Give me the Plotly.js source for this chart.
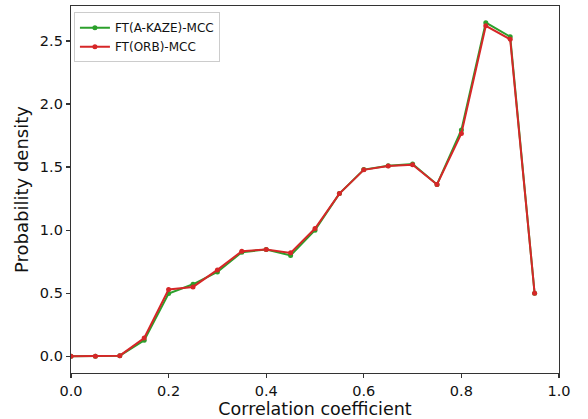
<!DOCTYPE html>
<html>
<head>
<meta charset="utf-8">
<script src="https://cdn.plot.ly/plotly-3.0.1.min.js"></script>
<style>html,body{margin:0;padding:0;background:#fff;}#chart{width:588px;height:419px;}</style>
</head>
<body>
<div id="chart"></div>
<script>
const xValues = [0, 0.05, 0.1, 0.15, 0.2, 0.25, 0.3, 0.35, 0.4, 0.45, 0.5, 0.55, 0.6, 0.65, 0.7, 0.75, 0.8, 0.85, 0.9, 0.95];
const akazeValues = [0, 0, 0.005, 0.127, 0.497, 0.571, 0.669, 0.825, 0.847, 0.80, 1.0, 1.29, 1.48, 1.51, 1.524, 1.362, 1.794, 2.645, 2.534, 0.50];
const orbValues = [0, 0, 0.005, 0.145, 0.53, 0.55, 0.685, 0.833, 0.847, 0.82, 1.013, 1.29, 1.478, 1.508, 1.518, 1.362, 1.767, 2.62, 2.513, 0.50];
const seriesNames = ["FT(A-KAZE)-MCC", "FT(ORB)-MCC"];
const xTicks = [0, 0.2, 0.4, 0.6, 0.8, 1.0];
const xTickLabels = ["0.0", "0.2", "0.4", "0.6", "0.8", "1.0"];
const yTicks = [0, 0.5, 1.0, 1.5, 2.0, 2.5];
const yTickLabels = ["0.0", "0.5", "1.0", "1.5", "2.0", "2.5"];

const font = "DejaVu Sans, sans-serif";
const traces = [
  {x: xValues, y: akazeValues, name: seriesNames[0], mode: "lines+markers", type: "scatter",
   line: {color: "#2ca02c", width: 2}, marker: {color: "#2ca02c", size: 5}},
  {x: xValues, y: orbValues, name: seriesNames[1], mode: "lines+markers", type: "scatter",
   line: {color: "#d62728", width: 2}, marker: {color: "#d62728", size: 5}}
];
const axisCommon = {
  showgrid: false, zeroline: false, showline: true, mirror: true,
  linecolor: "#333", linewidth: 1.2, ticks: "outside", ticklen: 4, tickwidth: 1.2, tickcolor: "#333",
  tickfont: {family: font, size: 14.5, color: "#111"}
};
const layout = {
  width: 588, height: 419,
  margin: {l: 71, r: 29, t: 6, b: 46},
  paper_bgcolor: "#fff", plot_bgcolor: "#fff",
  showlegend: true,
  legend: {x: 0.006, y: 0.983, xanchor: "left", yanchor: "top", bgcolor: "rgba(255,255,255,0.8)",
    bordercolor: "#ccc", borderwidth: 1, font: {family: font, size: 12, color: "#111"},
    tracegroupgap: 0, itemwidth: 30},
  xaxis: Object.assign({}, axisCommon, {range: [0, 1], tickvals: xTicks, ticktext: xTickLabels,
    title: {text: "Correlation coefficient", font: {family: font, size: 17.5, color: "#111"}, standoff: 3}}),
  yaxis: Object.assign({}, axisCommon, {range: [-0.1323, 2.777], tickvals: yTicks, ticktext: yTickLabels,
    title: {text: "Probability density", font: {family: font, size: 18, color: "#111"}, standoff: 6}})
};
Plotly.newPlot("chart", traces, layout, {displayModeBar: false, staticPlot: true});
</script>
</body>
</html>
